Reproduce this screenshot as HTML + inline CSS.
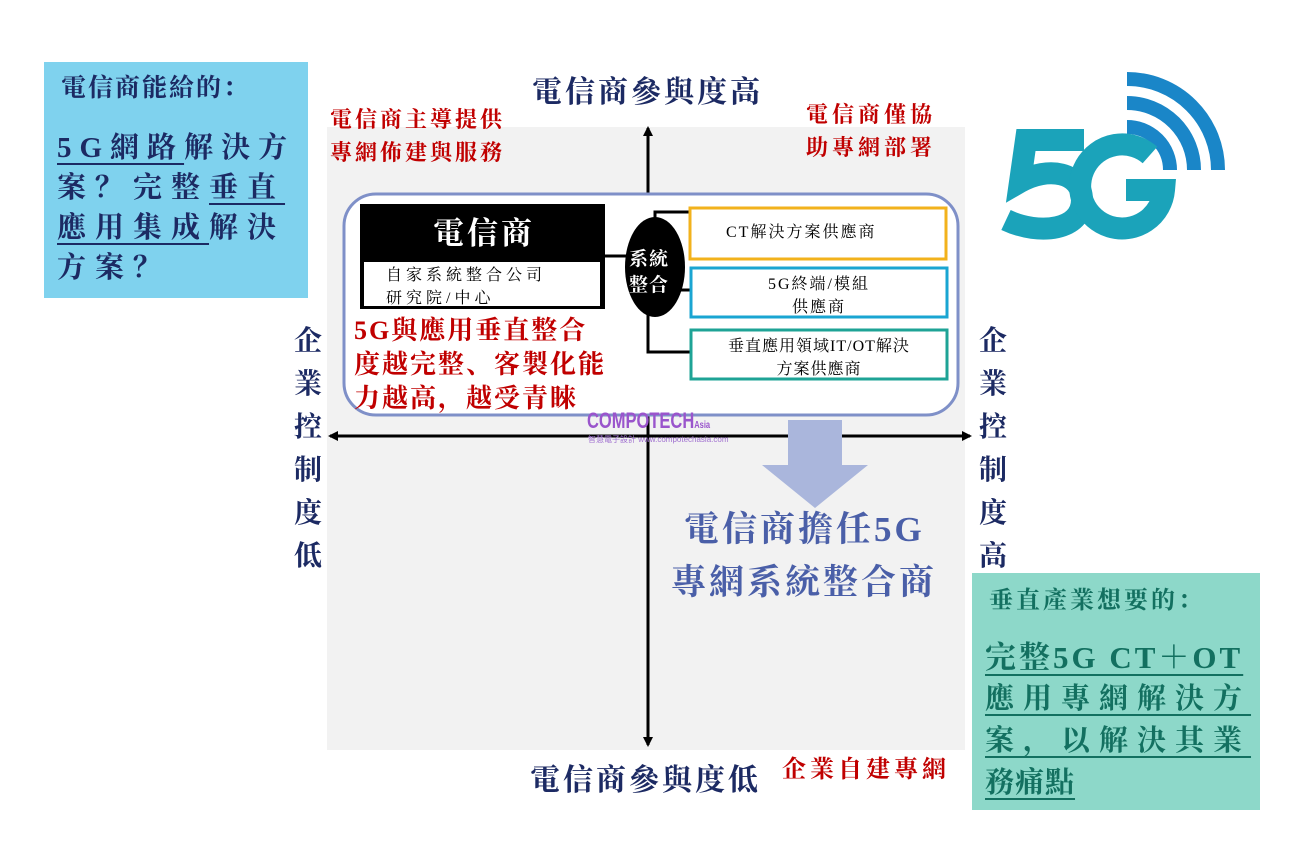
<!DOCTYPE html>
<html><head><meta charset="utf-8">
<style>
*{margin:0;padding:0;box-sizing:border-box}
body{width:1308px;height:854px;background:#fff;position:relative;overflow:hidden;font-family:"Liberation Serif","Noto Serif CJK SC",serif}
.t{position:absolute;white-space:nowrap;line-height:1}
.navy{color:#1c2a63}
.red{color:#c00000}
.u{text-decoration:underline;text-underline-offset:6px;text-decoration-thickness:2px}
</style></head><body>
<svg width="1308" height="854" style="position:absolute;left:0;top:0">
<defs>
<marker id="ah" markerWidth="10" markerHeight="10" refX="8" refY="5" orient="auto" markerUnits="userSpaceOnUse"><path d="M0,0 L10,5 L0,10 z" fill="#000"/></marker>
</defs>
<rect x="327" y="127" width="638" height="623" fill="#f2f2f2"/>
<rect x="44" y="62" width="264" height="236" fill="#7fd2ee"/>
<rect x="972" y="573" width="288" height="237" fill="#8dd8c9"/>
<line x1="648" y1="745" x2="648" y2="128" stroke="#000" stroke-width="3" marker-end="url(#ah)"/>
<line x1="648" y1="436" x2="648" y2="745" stroke="#000" stroke-width="3" marker-end="url(#ah)"/>
<line x1="648" y1="436" x2="330" y2="436" stroke="#000" stroke-width="3" marker-end="url(#ah)"/>
<line x1="648" y1="436" x2="970" y2="436" stroke="#000" stroke-width="3" marker-end="url(#ah)"/>
<rect x="344" y="194" width="614" height="221" rx="32" fill="#fff" stroke="#7f90c8" stroke-width="3"/>
<rect x="360" y="204" width="245" height="105" fill="#000"/>
<rect x="364" y="262" width="236" height="44" fill="#fff"/>
<line x1="605" y1="256" x2="640" y2="256" stroke="#000" stroke-width="3"/>
<path d="M655,232 L655,212 L690,212 M680,290 L690,290 M648,310 L648,352 L690,352" stroke="#000" stroke-width="3" fill="none"/>
<ellipse cx="655" cy="267" rx="30" ry="50" fill="#000"/>
<rect x="690" y="208" width="256" height="51" fill="#fff" stroke="#f2b21c" stroke-width="3"/>
<rect x="691" y="268" width="256" height="49" fill="#fff" stroke="#1aa5d2" stroke-width="3"/>
<rect x="691" y="330" width="256" height="49" fill="#fff" stroke="#1ea396" stroke-width="3"/>
<path d="M788,420 L842,420 L842,465 L868,465 L815,508 L762,465 L788,465 z" fill="#aab6dc"/>
<!-- 5G logo -->
<g fill="none" stroke="#1a86c8" stroke-width="14">
<path d="M1127,79 A91,91 0 0 1 1218,170"/>
<path d="M1127,103 A67,67 0 0 1 1194,170"/>
<path d="M1127,127 A43,43 0 0 1 1170,170"/>
</g>
<g fill="none" stroke="#1ba3ba" stroke-width="22">
<path d="M1084,140 L1026,140 L1020,182 C1048,166 1082,172 1082,200 C1082,230 1040,236 1006,220"/>
<path d="M1150,155 A42,42 0 1 0 1164,190 L1126,190"/>
</g>
</svg>

<div class="t navy" style="left:61px;top:76px;font-size:25px;font-weight:bold;letter-spacing:2px">電信商能給的：</div>
<div class="t navy" style="left:57px;top:134px;font-size:29px;font-weight:bold;letter-spacing:8px"><span class="u">5G網路</span>解決方</div>
<div class="t navy" style="left:57px;top:174px;font-size:29px;font-weight:bold;letter-spacing:9px">案？完整<span class="u">垂直</span></div>
<div class="t navy" style="left:57px;top:214px;font-size:29px;font-weight:bold;letter-spacing:9px"><span class="u">應用集成</span>解決</div>
<div class="t navy" style="left:57px;top:254px;font-size:29px;font-weight:bold;letter-spacing:9px">方案？</div>

<div class="t navy" style="left:532px;top:78px;font-size:30px;letter-spacing:3px;font-weight:bold">電信商參與度高</div>
<div class="t navy" style="left:530px;top:766px;font-size:30px;letter-spacing:3px;font-weight:bold">電信商參與度低</div>
<div class="t red" style="left:330px;top:103px;font-size:22px;letter-spacing:3px;line-height:33px;font-weight:bold">電信商主導提供<br>專網佈建與服務</div>
<div class="t red" style="left:806px;top:98px;font-size:22px;letter-spacing:4px;line-height:33px;font-weight:bold">電信商僅協<br>助專網部署</div>
<div class="t red" style="left:782px;top:758px;font-size:24px;letter-spacing:4px;font-weight:bold">企業自建專網</div>
<div class="t navy" style="left:294px;top:320px;font-size:28px;line-height:43px;white-space:normal;width:30px;font-weight:bold">企<br>業<br>控<br>制<br>度<br>低</div>
<div class="t navy" style="left:979px;top:320px;font-size:28px;line-height:43px;white-space:normal;width:30px;font-weight:bold">企<br>業<br>控<br>制<br>度<br>高</div>

<div class="t" style="left:433px;top:218px;font-size:31px;color:#fff;font-weight:bold;letter-spacing:3px">電信商</div>
<div class="t" style="left:386px;top:264px;font-size:16px;letter-spacing:4px;line-height:23px">自家系統整合公司<br>研究院/中心</div>
<div class="t" style="left:629px;top:247px;font-size:19px;color:#fff;font-weight:bold;line-height:26px;letter-spacing:1px">系統<br>整合</div>
<div class="t" style="left:726px;top:225px;font-size:16px;letter-spacing:2px">CT解決方案供應商</div>
<div class="t" style="left:691px;top:273px;width:256px;text-align:center;font-size:16px;line-height:23px;letter-spacing:2px">5G終端/模組<br>供應商</div>
<div class="t" style="left:691px;top:335px;width:256px;text-align:center;font-size:16px;line-height:23px;letter-spacing:1px">垂直應用領域IT/OT解決<br>方案供應商</div>
<div class="t red" style="left:354px;top:314px;font-size:26px;font-weight:bold;letter-spacing:2px;line-height:34px">5G與應用垂直整合<br>度越完整、客製化能<br>力越高，越受青睞</div>
<div class="t" style="left:587px;top:410px;font-size:22px;color:#9a55cc;font-family:'Liberation Sans',sans-serif;font-weight:bold;transform:scaleX(0.75);transform-origin:left">COMPOTECH<span style="font-size:10px">Asia</span></div>
<div class="t" style="left:588px;top:436px;font-size:8px;color:#a070d0;font-family:'Liberation Sans','Noto Sans CJK TC',sans-serif">智慧電子設計 www.compotechasia.com</div>

<div class="t" style="left:684px;top:512px;font-size:35px;color:#4a5fa8;font-weight:bold;letter-spacing:3px">電信商擔任5G</div>
<div class="t" style="left:671px;top:565px;font-size:35px;color:#4a5fa8;font-weight:bold;letter-spacing:3px">專網系統整合商</div>

<div class="t" style="left:989px;top:589px;font-size:24px;color:#137060;font-weight:bold;letter-spacing:3px">垂直產業想要的：</div>
<div class="t u" style="left:985px;top:642px;font-size:31px;color:#137060;font-weight:bold;letter-spacing:3px">完整5G CT＋OT</div>
<div class="t u" style="left:985px;top:685px;font-size:29px;color:#137060;font-weight:bold;letter-spacing:9px">應用專網解決方</div>
<div class="t u" style="left:985px;top:727px;font-size:29px;color:#137060;font-weight:bold;letter-spacing:9px">案，以解決其業</div>
<div class="t u" style="left:985px;top:769px;font-size:29px;color:#137060;font-weight:bold;letter-spacing:1px">務痛點</div>
</body></html>
